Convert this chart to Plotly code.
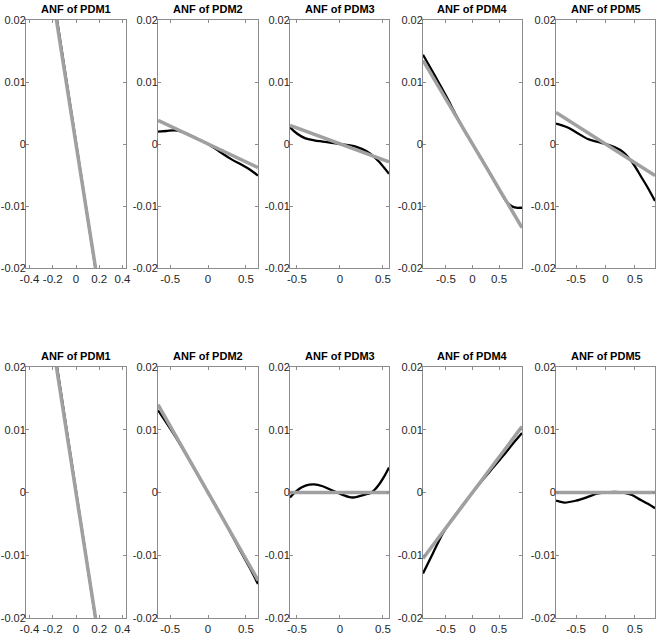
import plotly.graph_objects as go

# ---------------- data ----------------
titles = ["ANF of PDM1", "ANF of PDM2", "ANF of PDM3", "ANF of PDM4", "ANF of PDM5"]
x_ranges = [[-0.43, 0.43], [-0.66, 0.66], [-0.58, 0.57], [-0.93, 0.93], [-0.84, 0.84]]
x_ticks = [[-0.4, -0.2, 0, 0.2, 0.4], [-0.5, 0, 0.5], [-0.5, 0, 0.5], [-0.5, 0, 0.5], [-0.5, 0, 0.5]]
y_ticks = [-0.02, -0.01, 0, 0.01, 0.02]
y_ticklabels = ["-0.02", "-0.01", "0", "0.01", "0.02"]

# top row: black (estimated ANF) and gray (linear) curves
top_black_x = [
    [-0.2, 0.2],
    [-0.66, -0.55, -0.45, -0.35, -0.25, -0.15, 0.0, 0.15, 0.3, 0.45, 0.55, 0.66],
    [-0.58, -0.5, -0.4, -0.3, -0.2, -0.1, 0.0, 0.1, 0.2, 0.3, 0.4, 0.47, 0.57],
    [-0.93, -0.7, -0.5, -0.3, -0.15, 0.0, 0.15, 0.3, 0.45, 0.55, 0.65, 0.75, 0.85, 0.93],
    [-0.84, -0.65, -0.5, -0.3, -0.15, 0.0, 0.15, 0.3, 0.45, 0.6, 0.72, 0.84],
]
top_black_y = [
    [0.0245, -0.0240],
    [0.0020, 0.0021, 0.0022, 0.0020, 0.0015, 0.0009, 0.0, -0.0012, -0.0024, -0.0034, -0.0041, -0.0051],
    [0.0027, 0.0017, 0.0009, 0.0006, 0.0004, 0.0002, 0.0, -0.0002, -0.0005, -0.0011, -0.0021, -0.0031, -0.0048],
    [0.0144, 0.0109, 0.0078, 0.0045, 0.0021, 0.0, -0.0021, -0.0043, -0.0066, -0.0081, -0.0094, -0.0101, -0.0103, -0.0103],
    [0.0033, 0.0027, 0.0019, 0.0008, 0.0004, 0.0, -0.0005, -0.0013, -0.0029, -0.0052, -0.0071, -0.0092],
]
top_gray_x = [[-0.2, 0.2], [-0.66, 0.66], [-0.58, 0.57], [-0.93, 0.93], [-0.84, 0.84]]
top_gray_y = [[0.0238, -0.0238], [0.0038, -0.0038], [0.0030, -0.0029], [0.0135, -0.0135], [0.0051, -0.0051]]

# bottom row
bot_black_x = [
    [-0.2, 0.2],
    [-0.66, -0.4, -0.2, 0.0, 0.2, 0.4, 0.55, 0.66],
    [-0.58, -0.5, -0.4, -0.3, -0.2, -0.1, 0.0, 0.1, 0.15, 0.2, 0.3, 0.35, 0.4, 0.45, 0.52, 0.57],
    [-0.93, -0.75, -0.55, -0.4, -0.2, 0.0, 0.2, 0.4, 0.6, 0.8, 0.93],
    [-0.84, -0.7, -0.5, -0.3, -0.15, 0.0, 0.15, 0.3, 0.45, 0.6, 0.72, 0.84],
]
bot_black_y = [
    [0.0245, -0.0240],
    [0.0131, 0.0083, 0.0042, 0.0, -0.0042, -0.0087, -0.0120, -0.0146],
    [-0.0008, 0.0003, 0.0011, 0.0013, 0.0010, 0.0004, -0.0002, -0.0007, -0.0008, -0.0007, -0.0003, -0.0001, 0.0004, 0.0012, 0.0027, 0.0040],
    [-0.0129, -0.0098, -0.0064, -0.0045, -0.0022, 0.0, 0.0021, 0.0041, 0.0061, 0.0082, 0.0095],
    [-0.0013, -0.0016, -0.0013, -0.0007, -0.0002, 0.0, 0.0001, 0.0, -0.0004, -0.0012, -0.0018, -0.0025],
]
bot_gray_x = [[-0.2, 0.2], [-0.66, 0.66], [-0.58, 0.57], [-0.93, 0.93], [-0.84, 0.84]]
bot_gray_y = [[0.0238, -0.0238], [0.0140, -0.0140], [0.0, 0.0], [-0.0105, 0.0105], [0.0, 0.0]]

# ---------------- layout geometry ----------------
W, H = 657, 641
col_px = [(26, 126), (158, 258), (290, 389), (423, 522), (556, 655)]
row_px = [(20, 268), (367, 618)]

AXCOL = "#8c8c8c"
TXT = "#262626"
FONT = "Liberation Sans Narrow, Arial Narrow, Liberation Sans, Arial, sans-serif"

fig = go.Figure()
layout = dict(
    width=W, height=H, margin=dict(l=0, r=0, t=0, b=0, pad=0, autoexpand=False),
    paper_bgcolor="white", plot_bgcolor="white", showlegend=False,
    font=dict(family=FONT, size=11, color=TXT),
)
annotations = []

rows = [(top_black_x, top_black_y, top_gray_x, top_gray_y),
        (bot_black_x, bot_black_y, bot_gray_x, bot_gray_y)]
idx = 0
for r, (bx, by, gx, gy) in enumerate(rows):
    y0p, y1p = row_px[r]
    for c in range(5):
        idx += 1
        xa = "x" if idx == 1 else f"x{idx}"
        ya = "y" if idx == 1 else f"y{idx}"
        x0p, x1p = col_px[c]
        xd = [x0p / W, x1p / W]
        yd = [1 - y1p / H, 1 - y0p / H]
        layout["xaxis" if idx == 1 else f"xaxis{idx}"] = dict(
            domain=xd, anchor=ya, range=x_ranges[c], tickvals=x_ticks[c],
            ticktext=[("%g" % v) for v in x_ticks[c]], tickangle=0, automargin=False,
            showline=True, linecolor=AXCOL, linewidth=1, mirror="ticks",
            ticks="inside", ticklen=3, tickcolor=AXCOL, showgrid=False, zeroline=False,
            tickfont=dict(family=FONT, size=11.5, color=TXT), fixedrange=True,
        )
        layout["yaxis" if idx == 1 else f"yaxis{idx}"] = dict(
            domain=yd, anchor=xa, range=[-0.02, 0.02], tickvals=y_ticks, ticktext=y_ticklabels,
            automargin=False, ticklabelstandoff=-3,
            showline=True, linecolor=AXCOL, linewidth=1, mirror="ticks",
            ticks="inside", ticklen=3, tickcolor=AXCOL, showgrid=False, zeroline=False,
            tickfont=dict(family=FONT, size=11, color=TXT), fixedrange=True,
        )
        fig.add_trace(go.Scatter(x=bx[c], y=by[c], mode="lines", xaxis=xa, yaxis=ya,
                                 line=dict(color="black", width=2.3, shape="spline", smoothing=1.0),
                                 hoverinfo="skip"))
        fig.add_trace(go.Scatter(x=gx[c], y=gy[c], mode="lines", xaxis=xa, yaxis=ya,
                                 line=dict(color="#a0a0a0", width=3.5),
                                 hoverinfo="skip"))
        annotations.append(dict(
            text="<b>%s</b>" % titles[c], xref="paper", yref="paper",
            x=(x0p + x1p) / 2 / W, y=1 - (y0p - 3) / H, xanchor="center", yanchor="bottom",
            showarrow=False, font=dict(family=FONT, size=11, color="black"),
        ))

layout["annotations"] = annotations
fig.update_layout(**layout)
fig.write_html("out.html", config={"displayModeBar": False},
               post_script="document.body.style.margin='0';document.body.style.overflow='hidden';")
